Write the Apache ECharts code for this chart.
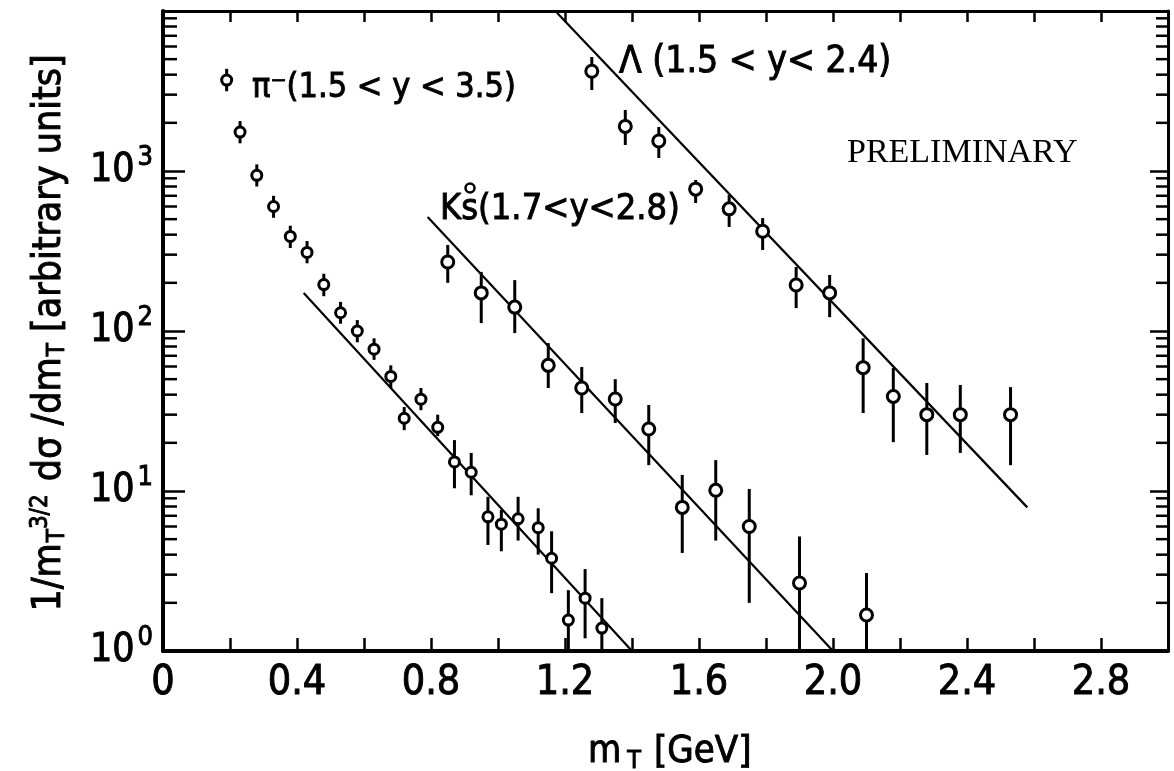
<!DOCTYPE html>
<html><head><meta charset="utf-8">
<script src="https://cdn.jsdelivr.net/npm/echarts@6/dist/echarts.min.js"></script>
<style>html,body{margin:0;padding:0;background:#fff}#c{width:1174px;height:771px}</style>
</head><body><div id="c"></div>
<script>
// ---- data ----
const xTickValues = [0, 0.4, 0.8, 1.2, 1.6, 2.0, 2.4, 2.8];
const xTickLabels = ['0', '0.4', '0.8', '1.2', '1.6', '2.0', '2.4', '2.8'];
const yTickExponents = [0, 1, 2, 3];

const pionX  = [0.19, 0.23, 0.28, 0.33, 0.38, 0.43, 0.48, 0.53, 0.58, 0.63, 0.68, 0.72, 0.77, 0.82, 0.87, 0.92, 0.97, 1.01, 1.06, 1.12, 1.16, 1.21, 1.26, 1.31];
const pionY  = [3700, 1750, 940, 600, 390, 310, 195, 130, 100, 77, 52, 28.5, 37.5, 25, 15.2, 13.1, 6.9, 6.2, 6.7, 5.9, 3.8, 1.56, 2.14, 1.39];
const pionLo = [3150, 1490, 800, 510, 330, 265, 165, 111, 85, 66, 44, 24, 32, 22, 10.4, 9.4, 4.6, 4.2, 4.9, 4.0, 2.3, 1.0, 1.2, 1.0];
const pionHi = [4350, 2050, 1100, 700, 455, 365, 228, 152, 117, 90, 61, 33.5, 44, 30, 20.8, 17.3, 9.2, 7.6, 9.2, 7.8, 5.6, 2.4, 3.25, 2.14];

const kaonX  = [0.85, 0.95, 1.05, 1.15, 1.25, 1.35, 1.45, 1.55, 1.65, 1.75, 1.90, 2.10];
const kaonY  = [270, 173, 141, 61, 44, 37.6, 24.4, 7.9, 10.1, 6.0, 2.66, 1.68];
const kaonLo = [200, 112, 97, 44, 30.7, 26.6, 14.5, 4.1, 4.9, 2.0, 1.0, 1.0];
const kaonHi = [345, 234, 208, 84, 59.6, 50, 34.5, 12.6, 15.6, 10.3, 5.2, 3.07];

const lambdaX  = [1.28, 1.38, 1.48, 1.59, 1.69, 1.79, 1.89, 1.99, 2.09, 2.18, 2.28, 2.38, 2.53];
const lambdaY  = [4200, 1900, 1540, 770, 580, 420, 194, 173, 59, 39, 30, 30, 30];
const lambdaLo = [3208, 1454, 1205, 631, 447, 321, 139, 122, 30.7, 20.2, 16.8, 17.3, 14.5];
const lambdaHi = [5158, 2405, 1884, 879, 708, 508, 251, 224, 90, 58.7, 47.3, 46, 44.6];

const pionFitX = [0.42, 1.40],  pionFitY = [173, 1.0];
const kaonFitX = [0.79, 2.00],  kaonFitY = [516, 1.0];
const lambdaFitX = [1.176, 2.58], lambdaFitY = [9750, 7.9];

// ---- chart ----
const SANS = "'DejaVu Sans Condensed','Liberation Sans Narrow',sans-serif";
const SERIF = "'Liberation Serif','DejaVu Serif',serif";
const TB = { textBorderColor: '#000', textBorderWidth: 0.9 };
const X_MIN = 0, X_MAX = 3.0, Y_MIN = 1, Y_MAX = 10000;

const minorVals = [];
for (let e = 0; e < 4; e++) for (let m = 2; m <= 9; m++) minorVals.push([X_MIN, m * Math.pow(10, e)]);

const zip = (a, b) => a.map((v, i) => [v, b[i]]);

function pointSeries(xs, ys, lo, hi, r) {
  return {
    type: 'custom', z: 4, silent: true, clip: true,
    data: xs.map((x, i) => [x, ys[i], lo[i], hi[i]]),
    encode: { x: 0, y: [1, 2, 3] },
    renderItem(params, api) {
      const c = api.coord([api.value(0), api.value(1)]);
      const a = api.coord([api.value(0), api.value(2)]);
      const b = api.coord([api.value(0), api.value(3)]);
      return { type: 'group', children: [
        { type: 'line', shape: { x1: a[0], y1: a[1], x2: b[0], y2: b[1] }, style: { stroke: '#000', lineWidth: 3 } },
        { type: 'circle', shape: { cx: c[0], cy: c[1], r: r }, style: { fill: '#fff', stroke: '#000', lineWidth: 3 } }
      ] };
    }
  };
}
function fitSeries(xs, ys) {
  return { type: 'line', z: 3, symbol: 'none', data: zip(xs, ys), lineStyle: { color: '#000', width: 2.2 }, silent: true };
}

const chart = echarts.init(document.getElementById('c'), null, { renderer: 'canvas' });
chart.setOption({
  animation: false,
  backgroundColor: '#fff',
  grid: { left: 163, top: 11, right: 6, bottom: 120, containLabel: false, outerBoundsMode: 'none' },
  xAxis: [
    { type: 'value', position: 'bottom', min: X_MIN, max: X_MAX, interval: 0.2,
      axisLine: { onZero: false, lineStyle: { color: '#000', width: 4 } },
      axisTick: { inside: true, length: 13, lineStyle: { color: '#000', width: 2.5 } },
      axisLabel: Object.assign({ color: '#000', fontSize: 41, fontFamily: SANS, margin: 12,
        formatter: v => { const i = xTickValues.findIndex(t => Math.abs(t - v) < 1e-6); return i >= 0 ? xTickLabels[i] : ''; } }, TB),
      splitLine: { show: false } },
    { type: 'value', position: 'top', min: X_MIN, max: X_MAX, interval: 0.2,
      axisLine: { onZero: false, lineStyle: { color: '#000', width: 3 } },
      axisTick: { inside: true, length: 11, lineStyle: { color: '#000', width: 2.5 } },
      axisLabel: { show: false }, splitLine: { show: false } }
  ],
  yAxis: [
    { type: 'log', logBase: 10, min: Y_MIN, max: Y_MAX, position: 'left',
      axisLine: { onZero: false, lineStyle: { color: '#000', width: 4 } },
      axisTick: { inside: true, length: 22, lineStyle: { color: '#000', width: 2.5 } },
      axisLabel: { color: '#000', margin: 10, fontFamily: SANS,
        formatter: v => { const e = Math.round(Math.log10(v)); return yTickExponents.indexOf(e) >= 0 ? '{b|10}{s|' + e + '}' : ''; },
        rich: { b: Object.assign({ fontSize: 39, fontFamily: SANS, color: '#000' }, TB),
                s: Object.assign({ fontSize: 27, fontFamily: SANS, color: '#000', padding: [0, 0, 26, 3] }, TB) } },
      splitLine: { show: false } },
    { type: 'log', logBase: 10, min: Y_MIN, max: Y_MAX, position: 'right',
      axisLine: { onZero: false, lineStyle: { color: '#000', width: 3 } },
      axisTick: { inside: true, length: 18, lineStyle: { color: '#000', width: 2.5 } },
      axisLabel: { show: false }, splitLine: { show: false } }
  ],
  series: [
    { type: 'custom', z: 1, silent: true, clip: false, data: minorVals, encode: { x: 0, y: 1 },
      renderItem(params, api) {
        const l = api.coord([X_MIN, api.value(1)]);
        const r = api.coord([X_MAX, api.value(1)]);
        return { type: 'group', children: [
          { type: 'line', shape: { x1: l[0], y1: l[1], x2: l[0] + 14, y2: l[1] }, style: { stroke: '#000', lineWidth: 2.5 } },
          { type: 'line', shape: { x1: r[0], y1: r[1], x2: r[0] - 12, y2: r[1] }, style: { stroke: '#000', lineWidth: 2.5 } }
        ] };
      } },
    fitSeries(pionFitX, pionFitY),
    fitSeries(kaonFitX, kaonFitY),
    fitSeries(lambdaFitX, lambdaFitY),
    pointSeries(pionX, pionY, pionLo, pionHi, 5),
    pointSeries(kaonX, kaonY, kaonLo, kaonHi, 6),
    pointSeries(lambdaX, lambdaY, lambdaLo, lambdaHi, 6)
  ],
  graphic: [
    { type: 'text', style: Object.assign({ x: 252, y: 88, text: 'π⁻(1.5 < y < 3.5)', fontSize: 34, fontFamily: SANS, fill: '#000', align: 'left', verticalAlign: 'middle' }, { stroke: '#000', lineWidth: 0.9 }) },
    { type: 'text', style: { x: 619, y: 62, text: 'Λ (1.5 < y< 2.4)', fontSize: 37, fontFamily: SANS, fill: '#000', stroke: '#000', lineWidth: 0.9, align: 'left', verticalAlign: 'middle' } },
    { type: 'text', style: { x: 440, y: 210, text: 'Ks(1.7<y<2.8)', fontSize: 36, fontFamily: SANS, fill: '#000', stroke: '#000', lineWidth: 0.9, align: 'left', verticalAlign: 'middle' } },
    { type: 'circle', shape: { cx: 470, cy: 188, r: 4.5 }, style: { fill: 'none', stroke: '#000', lineWidth: 2.5 } },
    { type: 'text', style: { x: 847, y: 153, text: 'PRELIMINARY', fontSize: 34, fontFamily: SERIF, fill: '#000', align: 'left', verticalAlign: 'middle' } },
    { type: 'text', style: { x: 588, y: 752, text: 'm{sub|T} [GeV]', fontSize: 38, fontFamily: SANS, fill: '#000', stroke: '#000', lineWidth: 0.9, align: 'left', verticalAlign: 'middle',
        rich: { sub: { fontSize: 25, fontFamily: SANS, padding: [18, 2, 0, 6] } } } },
    { type: 'text', x: 50, y: 333, rotation: Math.PI / 2,
      style: { x: 0, y: 0, text: '1/m{sub|T}{sup|3/2} dσ /dm{sub|T} [arbitrary units]', fontSize: 39, fontFamily: SANS, fill: '#000', stroke: '#000', lineWidth: 0.9, align: 'center', verticalAlign: 'middle',
        rich: { sub: { fontSize: 24, fontFamily: SANS, padding: [16, 0, 0, 1] }, sup: { fontSize: 24, fontFamily: SANS, padding: [0, 2, 18, 0] } } } }
  ]
});
</script>
</body></html>
